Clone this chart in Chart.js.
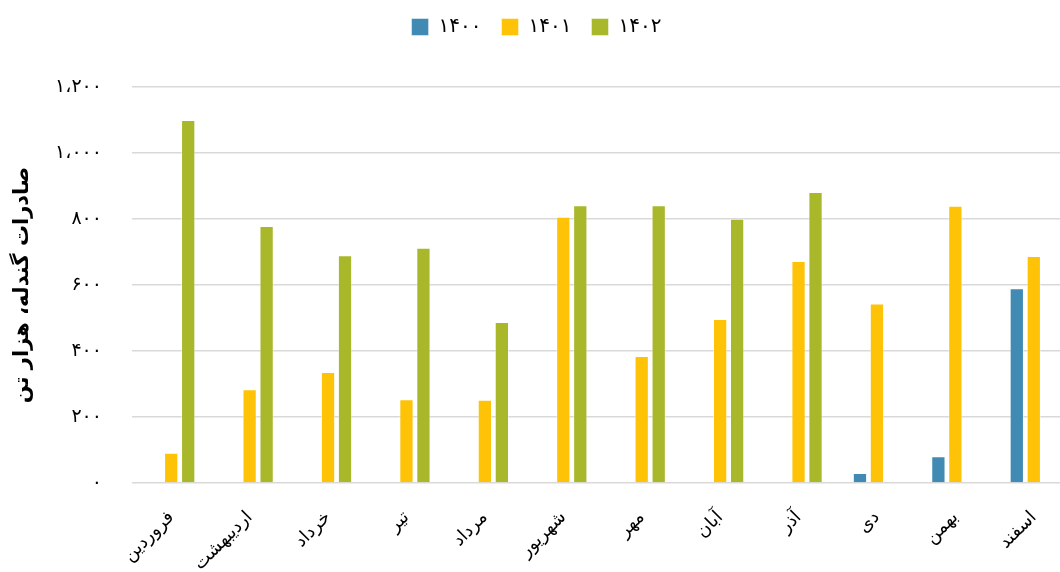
<!DOCTYPE html>
<html>
<head>
<meta charset="utf-8">
<script src="https://cdn.jsdelivr.net/npm/chart.js@4.4.0/dist/chart.umd.min.js"></script>
<style>
  html, body { margin: 0; padding: 0; overflow: hidden; background: #fff; }
  #wrap { width: 1078px; height: 572px; position: relative; }
</style>
</head>
<body>
<div id="wrap"><canvas id="chartPellet"></canvas></div>
<script>
// months of the year
const months = ['فروردین', 'اردیبهشت', 'خرداد', 'تیر', 'مرداد', 'شهریور', 'مهر', 'آبان', 'آذر', 'دی', 'بهمن', 'اسفند'];

// pellet exports, thousand tonnes
const exports1400 = [null, null, null, null, null, null, null, null, null, 30, 81, 590];
const exports1401 = [92, 284, 336, 254, 252, 807, 385, 497, 673, 544, 840, 688];
const exports1402 = [1100, 779, 690, 713, 488, 842, 842, 801, 882, null, null, null];

const seriesNames = ['۱۴۰۰', '۱۴۰۱', '۱۴۰۲'];
const yTickLabels = ['۰', '۲۰۰', '۴۰۰', '۶۰۰', '۸۰۰', '۱،۰۰۰', '۱،۲۰۰'];
const yTitle = 'صادرات گندله، هزار تن';

const fontFamily = "'DejaVu Sans', sans-serif";

// extra room between the legend and the plot
const legendGap = {
    id: 'legendGap',
    beforeInit(chart) {
        const fit = chart.legend.fit;
        chart.legend.fit = function () {
            fit.call(this);
            this.height += 40;
        };
    }
};

const ctx = document.getElementById('chartPellet').getContext('2d');
const chart = new Chart(ctx, {
    type: 'bar',
    data: {
        labels: months,
        datasets: [{
            label: seriesNames[0],
            data: exports1400,
            backgroundColor: '#418ab3',
            borderColor: 'rgba(255,255,255,0.45)',
            borderWidth: 1
        }, {
            label: seriesNames[1],
            data: exports1401,
            backgroundColor: '#fec306',
            borderColor: 'rgba(255,255,255,0.45)',
            borderWidth: 1
        }, {
            label: seriesNames[2],
            data: exports1402,
            backgroundColor: '#a8b82a',
            borderColor: 'rgba(255,255,255,0.45)',
            borderWidth: 1
        }]
    },
    options: {
        responsive: true,
        maintainAspectRatio: false,
        animation: false,
        categoryPercentage: 0.65,
        barPercentage: 0.84,
        layout: {
            padding: { top: -3, right: 5, bottom: 0, left: 0 }
        },
        plugins: {
            legend: {
                position: 'top',
                labels: {
                    boxWidth: 17,
                    boxHeight: 17,
                    padding: 20,
                    color: '#000',
                    font: { family: fontFamily, size: 20 }
                }
            },
            tooltip: { enabled: false }
        },
        scales: {
            x: {
                grid: { display: false },
                border: { display: false },
                ticks: {
                    minRotation: 45,
                    maxRotation: 45,
                    autoSkip: false,
                    padding: 16,
                    color: '#000',
                    font: { family: fontFamily, size: 18 }
                },
                afterFit: function (scale) { scale.height = 89; }
            },
            y: {
                min: 0,
                max: 1200,
                border: { display: false },
                grid: { color: '#d9d9d9', lineWidth: 1.5, drawTicks: false },
                ticks: {
                    stepSize: 200,
                    padding: 30,
                    color: '#000',
                    font: { family: fontFamily, size: 19 },
                    callback: function (value) { return yTickLabels[value / 200]; }
                },
                title: {
                    display: true,
                    text: yTitle,
                    color: '#000',
                    padding: { top: 10, bottom: 0 },
                    font: { family: fontFamily, size: 21, weight: 'bold' }
                },
                afterFit: function (scale) { scale.width = 132; }
            }
        }
    },
    plugins: [legendGap]
});
</script>
</body>
</html>
